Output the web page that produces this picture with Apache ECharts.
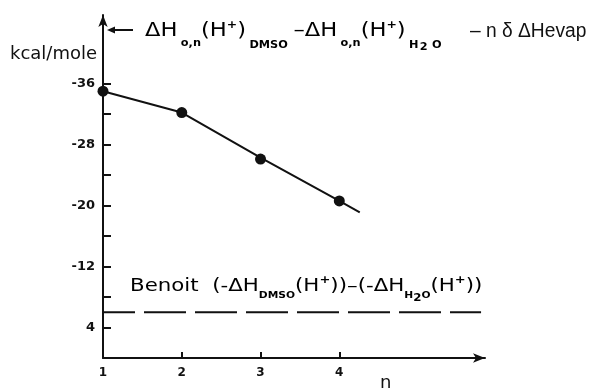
<!DOCTYPE html>
<html>
<head>
<meta charset="utf-8">
<script src="https://cdn.jsdelivr.net/npm/echarts@6/dist/echarts.min.js"></script>
<style>
  html, body { margin: 0; padding: 0; background: #fff; }
  #chart { width: 589px; height: 392px; }
</style>
</head>
<body>
<div id="chart"></div>
<script>
// measured points (kcal/mole vs n)
const pointN = [1, 2, 3, 4];
const pointV = [-35, -32.2, -26.1, -20.6];
// drawn fit line
const fitN = [1, 2, 3, 4, 4.26];
const fitV = [-35, -32.2, -26.3, -20.6, -19.1];
// Benoit reference level
const benoitN = [1, 5.8];
const benoitV = [-6, -6];
// axis ticks / labels
const xLabels = [1, 2, 3, 4];
const xTicks = [2, 3, 4];
const yTicks = [-36, -32, -28, -24, -20, -16, -12, -8, -4];
const yLabels = [-36, -28, -20, -12, -4];

const ink = "#111";
const font = "DejaVu Sans";

const zip = (a, b) => a.map((v, i) => [v, b[i]]);

const sm = (size, pad) => ({
  fontSize: size,
  fontWeight: "bold",
  fontFamily: font,
  color: ink,
  padding: pad,
});

const rich = {
  b: { fontSize: 20, fontFamily: font, color: ink },
  s: sm(10, [24, 0, 0, 3]),
  d: sm(10, [28, 0, 0, 3]),
  h: sm(10, [28, 1, 0, 3]),
  d2: sm(10, [33, 1, 0, 0]),
  p: sm(11, [0, 0, 12, 0]),
  m: { fontSize: 20, fontFamily: font, color: ink, padding: [0, 0, 0, 5] },
  bb: { fontSize: 18, fontFamily: font, color: ink },
  bs: sm(9, [20, 0, 0, 0]),
  bs2: sm(10, [25, 0, 0, 0]),
  bp: sm(11, [0, 0, 11, 0]),
};

const chart = echarts.init(document.getElementById("chart"));

chart.setOption({
  backgroundColor: "#fff",
  animation: false,
  grid: { left: 103, right: 104, top: 15, bottom: 34 },
  xAxis: {
    type: "value",
    min: 1,
    max: 5.85,
    splitLine: { show: false },
    axisLine: {
      lineStyle: { color: ink, width: 2 },
      symbol: ["none", "arrow"],
      symbolSize: [7, 12],
    },
    axisTick: { inside: true, length: 6, customValues: xTicks, lineStyle: { color: ink, width: 2 } },
    axisLabel: {
      customValues: xLabels,
      margin: 9,
      color: ink,
      fontSize: 12,
      fontWeight: "bold",
      fontFamily: font,
    },
  },
  yAxis: {
    type: "value",
    inverse: true,
    min: -45,
    max: 0,
    splitLine: { show: false },
    axisLine: {
      lineStyle: { color: ink, width: 2 },
      symbol: ["none", "arrow"],
      symbolSize: [7, 12],
    },
    axisTick: { inside: true, length: 8, customValues: yTicks, lineStyle: { color: ink, width: 2 } },
    axisLabel: {
      customValues: yLabels,
      margin: 8,
      color: ink,
      fontSize: 13,
      fontWeight: "bold",
      fontFamily: font,
      formatter: (v) => (v === -4 ? "4" : String(v)),
    },
  },
  series: [
    {
      type: "line",
      data: zip(fitN, fitV),
      showSymbol: false,
      lineStyle: { color: ink, width: 2 },
    },
    {
      type: "scatter",
      data: zip(pointN, pointV),
      symbolSize: 11,
      itemStyle: { color: ink, opacity: 1 },
      z: 5,
    },
    {
      type: "line",
      data: zip(benoitN, benoitV),
      showSymbol: false,
      lineStyle: { color: ink, width: 2, type: [42, 9], dashOffset: 10 },
    },
  ],
  graphic: [
    {
      type: "text",
      left: 10,
      top: 45,
      style: { text: "kcal/mole", font: `18px "${font}"`, fill: ink },
    },
    {
      type: "text",
      left: 380,
      top: 374,
      style: { text: "n", font: `18px "${font}"`, fill: ink },
    },
    {
      type: "line",
      shape: { x1: 112, y1: 30, x2: 133, y2: 30 },
      style: { stroke: ink, lineWidth: 2 },
    },
    {
      type: "polygon",
      shape: { points: [[107, 30], [115, 26.5], [115, 33.5]] },
      style: { fill: ink },
    },
    {
      type: "text",
      x: 145,
      y: 31,
      scaleX: 1.13,
      style: {
        text:
          "{b|ΔH}{s|o,n}{b|(H}{p|+}{b|)}{d|DMSO}{m|–ΔH}{s|o,n}{b|(H}{p|+}{b|)}{h|H}{d2|2}{d|O}",
        verticalAlign: "middle",
        rich: rich,
      },
    },
    {
      type: "text",
      x: 470,
      y: 31,
      scaleX: 0.96,
      style: {
        text: "– n δ ΔHevap",
        font: '20px "Liberation Sans"',
        fill: ink,
        verticalAlign: "middle",
      },
    },
    {
      type: "text",
      x: 130,
      y: 286,
      scaleX: 1.185,
      style: {
        text: "{bb|Benoit  (-ΔH}{bs|DMSO}{bb|(H}{bp|+}{bb|))–(-ΔH}{bs|H}{bs2|2}{bs|O}{bb|(H}{bp|+}{bb|))}",
        verticalAlign: "middle",
        rich: rich,
      },
    },
  ],
});
</script>
</body>
</html>
